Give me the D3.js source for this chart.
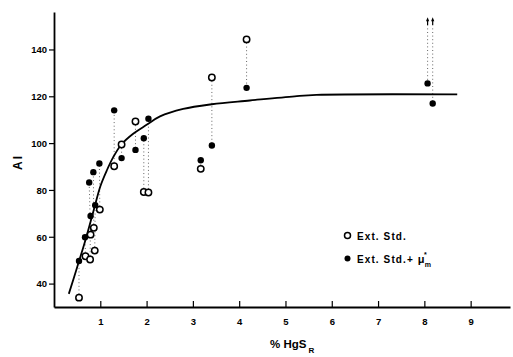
<!DOCTYPE html>
<html><head><meta charset="utf-8">
<script src="https://cdn.jsdelivr.net/npm/d3@7"></script>
<style>
html,body{margin:0;padding:0;background:#fff;}
svg{display:block;font-family:"Liberation Sans",Arial,sans-serif;}
</style></head>
<body><svg id="c" width="513" height="357"></svg>
<script>
// ---- data ----
const xOpen      = [0.54,0.68,0.78,0.79,0.86,0.88,0.99,1.30,1.46,1.76,1.94,2.04,3.17,3.41,4.16,8.07,8.18];
const aiExtStd   = [34,51.7,50.3,60.9,63.8,54.1,71.6,90.1,99.4,109.2,79.1,78.9,89,128,144.3,null,null];
const xFilled    = [0.54,0.67,0.79,0.76,0.85,0.89,0.98,1.30,1.46,1.76,1.94,2.04,3.17,3.41,4.16,8.07,8.18];
const aiExtStdMu = [49.7,59.8,68.9,83.2,87.6,73.5,91.3,114,93.6,97.1,102.1,110.4,92.7,99,123.6,125.5,116.9];
const offScaleAI = 152;   // open points above the plotted range (arrows)
const curveX = [0.32,0.5,0.67,0.86,1.0,1.14,1.28,1.46,1.71,2.0,2.29,2.79,3.41,4.23,5.2,5.67,8.71];
const curveY = [35.6,47,58,71.5,81.5,88.3,94,99.5,104,107.8,111.4,114.6,116.6,118.2,120,120.6,120.8];
const xTicks = [1,2,3,4,5,6,7,8,9];
const yTicks = [40,60,80,100,120,140];
const legendLabels = ["Ext. Std.", "Ext. Std.+ "];

// ---- drawing ----
const svg = d3.select("#c");
const x = d3.scaleLinear().domain([0,9.85]).range([54,510]);
const y = d3.scaleLinear().domain([30,156]).range([307,12]);

// dotted connectors
const g = svg.append("g");
xOpen.forEach((xv,i)=>{
  const top = aiExtStd[i]==null ? offScaleAI-3 : aiExtStd[i];
  g.append("line")
    .attr("x1",x(xv)).attr("x2",x(xFilled[i]))
    .attr("y1",y(top)).attr("y2",y(aiExtStdMu[i]))
    .attr("stroke","#555").attr("stroke-width",0.9)
    .attr("stroke-dasharray","1,2.6");
});

// fitted curve
const pts = curveX.map((d,i)=>[d,curveY[i]]);
svg.append("path").datum(pts)
  .attr("d", d3.line().x(d=>x(d[0])).y(d=>y(d[1])).curve(d3.curveCatmullRom.alpha(0.5)))
  .attr("fill","none").attr("stroke","#000").attr("stroke-width",1.8);

// axes
const yAxis = svg.append("g").attr("transform","translate(54,0)")
  .call(d3.axisLeft(y).tickValues(yTicks).tickSize(5).tickPadding(2).tickSizeOuter(0));
const xAxis = svg.append("g").attr("transform","translate(0,307)")
  .call(d3.axisBottom(x).tickValues(xTicks).tickSize(-6).tickPadding(11).tickSizeOuter(0));
[yAxis,xAxis].forEach(a=>{
  a.select(".domain").attr("stroke","#000").attr("stroke-width",1.8);
  a.selectAll(".tick line").attr("stroke","#000").attr("stroke-width",1.2);
  a.selectAll(".tick text").attr("font-size",9.5).attr("font-weight","bold").attr("fill","#000")
    .attr("font-family","'Liberation Sans',Arial,sans-serif");
});
yAxis.selectAll(".tick text").attr("dy","0.35em");

// points
svg.append("g").selectAll("circle").data(aiExtStd.map((v,i)=>[xOpen[i],v]).filter(d=>d[1]!=null))
  .join("circle").attr("cx",d=>x(d[0])).attr("cy",d=>y(d[1])).attr("r",3.2)
  .attr("fill","#fff").attr("stroke","#000").attr("stroke-width",1.5);
svg.append("g").selectAll("circle").data(aiExtStdMu.map((v,i)=>[xFilled[i],v]))
  .join("circle").attr("cx",d=>x(d[0])).attr("cy",d=>y(d[1])).attr("r",3.2)
  .attr("fill","#000");

// arrows for off-scale open points
xOpen.forEach((xv,i)=>{
  if(aiExtStd[i]!=null) return;
  const px = x(xv), py = y(offScaleAI);
  svg.append("path")
    .attr("d",`M${px},${py+4} L${px},${py-1}`)
    .attr("stroke","#000").attr("stroke-width",1.2);
  svg.append("path")
    .attr("d",`M${px-1.6},${py} L${px},${py-4} L${px+1.6},${py} Z`)
    .attr("fill","#000");
});

// axis titles
svg.append("text").attr("transform","translate(22,162) rotate(-90)")
  .attr("text-anchor","middle").attr("font-size",12).attr("font-weight","bold")
  .attr("letter-spacing",2).text("AI");
const xt = svg.append("text").attr("x",270).attr("y",348)
  .attr("font-size",11.5).attr("font-weight","bold");
xt.append("tspan").text("% HgS");
xt.append("tspan").attr("font-size",8).attr("dy",5).attr("dx",2).text("R");

// legend
svg.append("circle").attr("cx",347.5).attr("cy",235.5).attr("r",3)
  .attr("fill","#fff").attr("stroke","#000").attr("stroke-width",1.5);
svg.append("circle").attr("cx",347.5).attr("cy",258.5).attr("r",3).attr("fill","#000");
svg.append("text").attr("x",357).attr("y",239.5).attr("font-size",10).attr("font-weight","bold")
  .attr("letter-spacing",1.1).text(legendLabels[0]);
const lt = svg.append("text").attr("x",357).attr("y",262.5).attr("font-size",10).attr("font-weight","bold")
  .attr("letter-spacing",1.1);
lt.append("tspan").text(legendLabels[1]);
lt.append("tspan").attr("font-size",11).attr("letter-spacing",0).text("μ");
const ex = 357 + lt.node().getComputedTextLength();
svg.append("text").attr("x",ex-0.5).attr("y",256.5).attr("font-size",7).attr("font-weight","bold").text("*");
svg.append("text").attr("x",ex+0.3).attr("y",266.5).attr("font-size",7).attr("font-weight","bold").text("m");
</script></body></html>
